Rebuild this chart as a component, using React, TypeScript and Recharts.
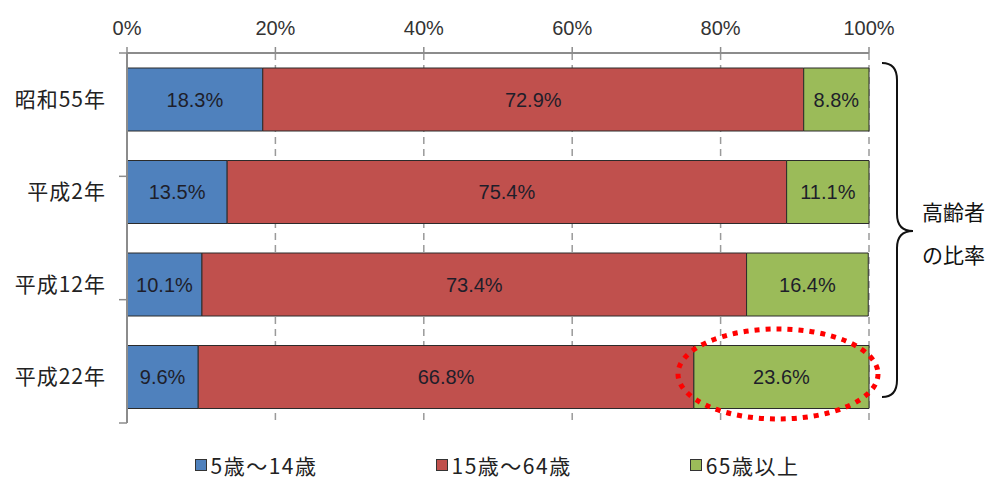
import React from "react";
import {
  BarChart,
  Bar,
  XAxis,
  YAxis,
  CartesianGrid,
  LabelList,
} from "recharts";

const categories = ["昭和55年", "平成2年", "平成12年", "平成22年"];
const young = [18.3, 13.5, 10.1, 9.6];
const working = [72.9, 75.4, 73.4, 66.8];
const elderly = [8.8, 11.1, 16.4, 23.6];
const xTicks = [0, 20, 40, 60, 80, 100];
const bandTicks = [0, 1, 2, 3, 4];

const series = [
  { key: "young", name: "5歳～14歳", color: "#4f81bd" },
  { key: "working", name: "15歳～64歳", color: "#c0504d" },
  { key: "elderly", name: "65歳以上", color: "#9bbb59" },
];

const data = categories.map((c, i) => ({
  year: c,
  young: young[i],
  working: working[i],
  elderly: elderly[i],
}));

const NUM_FONT = "'Liberation Sans', Arial, sans-serif";
const JP_FONT = "'Noto Sans CJK JP', 'Noto Sans', sans-serif";

function LegendBox() {
  return (
    <div
      style={{
        position: "absolute",
        top: 450,
        left: 0,
        width: 994,
        display: "flex",
        justifyContent: "center",
        gap: 118,
        fontFamily: JP_FONT,
      }}
    >
      {series.map((s) => (
        <div key={s.key} style={{ display: "flex", alignItems: "center", gap: 4 }}>
          <span
            style={{
              width: 10,
              height: 10,
              background: s.color,
              border: "1px solid #333",
              display: "inline-block",
            }}
          />
          <span style={{ fontSize: 21, color: "#222", letterSpacing: 1.5 }}>{s.name}</span>
        </div>
      ))}
    </div>
  );
}

export default function App() {
  return (
    <div style={{ position: "relative", width: 994, height: 480, background: "#fff" }}>
      <style>{`body{margin:0}`}</style>
      <BarChart
        width={994}
        height={480}
        data={data}
        layout="vertical"
        margin={{ top: 23, right: 125, left: 0, bottom: 57 }}
      >
        <CartesianGrid
          horizontal={false}
          stroke="#9a9a9a"
          strokeDasharray="7 5"
          strokeWidth={1.5}
        />
        <XAxis
          type="number"
          orientation="top"
          domain={[0, 100]}
          ticks={xTicks}
          tickFormatter={(v: number) => `${v}%`}
          height={30}
          tickSize={6}
          tickMargin={12}
          axisLine={{ stroke: "#8c8c8c", strokeWidth: 2 }}
          tickLine={{ stroke: "#8c8c8c", strokeWidth: 1.5 }}
          tick={{ fontSize: 20, fill: "#333", fontFamily: NUM_FONT }}
        />
        <YAxis
          type="number"
          domain={[0, 4]}
          ticks={bandTicks}
          allowDataOverflow
          width={1}
          tickSize={8}
          tickFormatter={() => ""}
          axisLine={{ stroke: "#8c8c8c", strokeWidth: 2 }}
          tickLine={{ stroke: "#8c8c8c", strokeWidth: 1.5 }}
        />
        <YAxis
          yAxisId="cat"
          type="category"
          dataKey="year"
          width={126}
          axisLine={false}
          tickLine={false}
          tickSize={0}
          tickMargin={20}
          tick={{ fontSize: 21, fill: "#222", fontFamily: JP_FONT, letterSpacing: 1 }}
        />
        {series.map((s) => (
          <Bar
            key={s.key}
            yAxisId="cat"
            dataKey={s.key}
            name={s.name}
            stackId="a"
            fill={s.color}
            stroke="#2b2b2b"
            strokeWidth={1}
            barSize={63}
            isAnimationActive={false}
          >
            <LabelList
              dataKey={s.key}
              position="center"
              formatter={(v: unknown) => `${Number(v).toFixed(1)}%`}
              style={{ fontSize: 20, fill: "#1e1e2a", fontFamily: NUM_FONT }}
            />
          </Bar>
        ))}
      </BarChart>
      <LegendBox />
      <svg
        width={994}
        height={480}
        style={{ position: "absolute", left: 0, top: 0, pointerEvents: "none" }}
      >
        <ellipse
          cx={778}
          cy={374}
          rx={100}
          ry={45}
          fill="none"
          stroke="#ff0000"
          strokeWidth={5}
          strokeDasharray="5 6"
        />
        <path
          d="M882,63 Q897,63 897,80 L897,214 Q897,231 913,231 Q897,231 897,248 L897,380 Q897,397 882,397"
          fill="none"
          stroke="#111"
          strokeWidth={2}
        />
        <text x={922} y={220} fontSize={21} fontFamily={JP_FONT} fill="#111">
          高齢者
        </text>
        <text x={922} y={263} fontSize={21} fontFamily={JP_FONT} fill="#111">
          の比率
        </text>
      </svg>
    </div>
  );
}
